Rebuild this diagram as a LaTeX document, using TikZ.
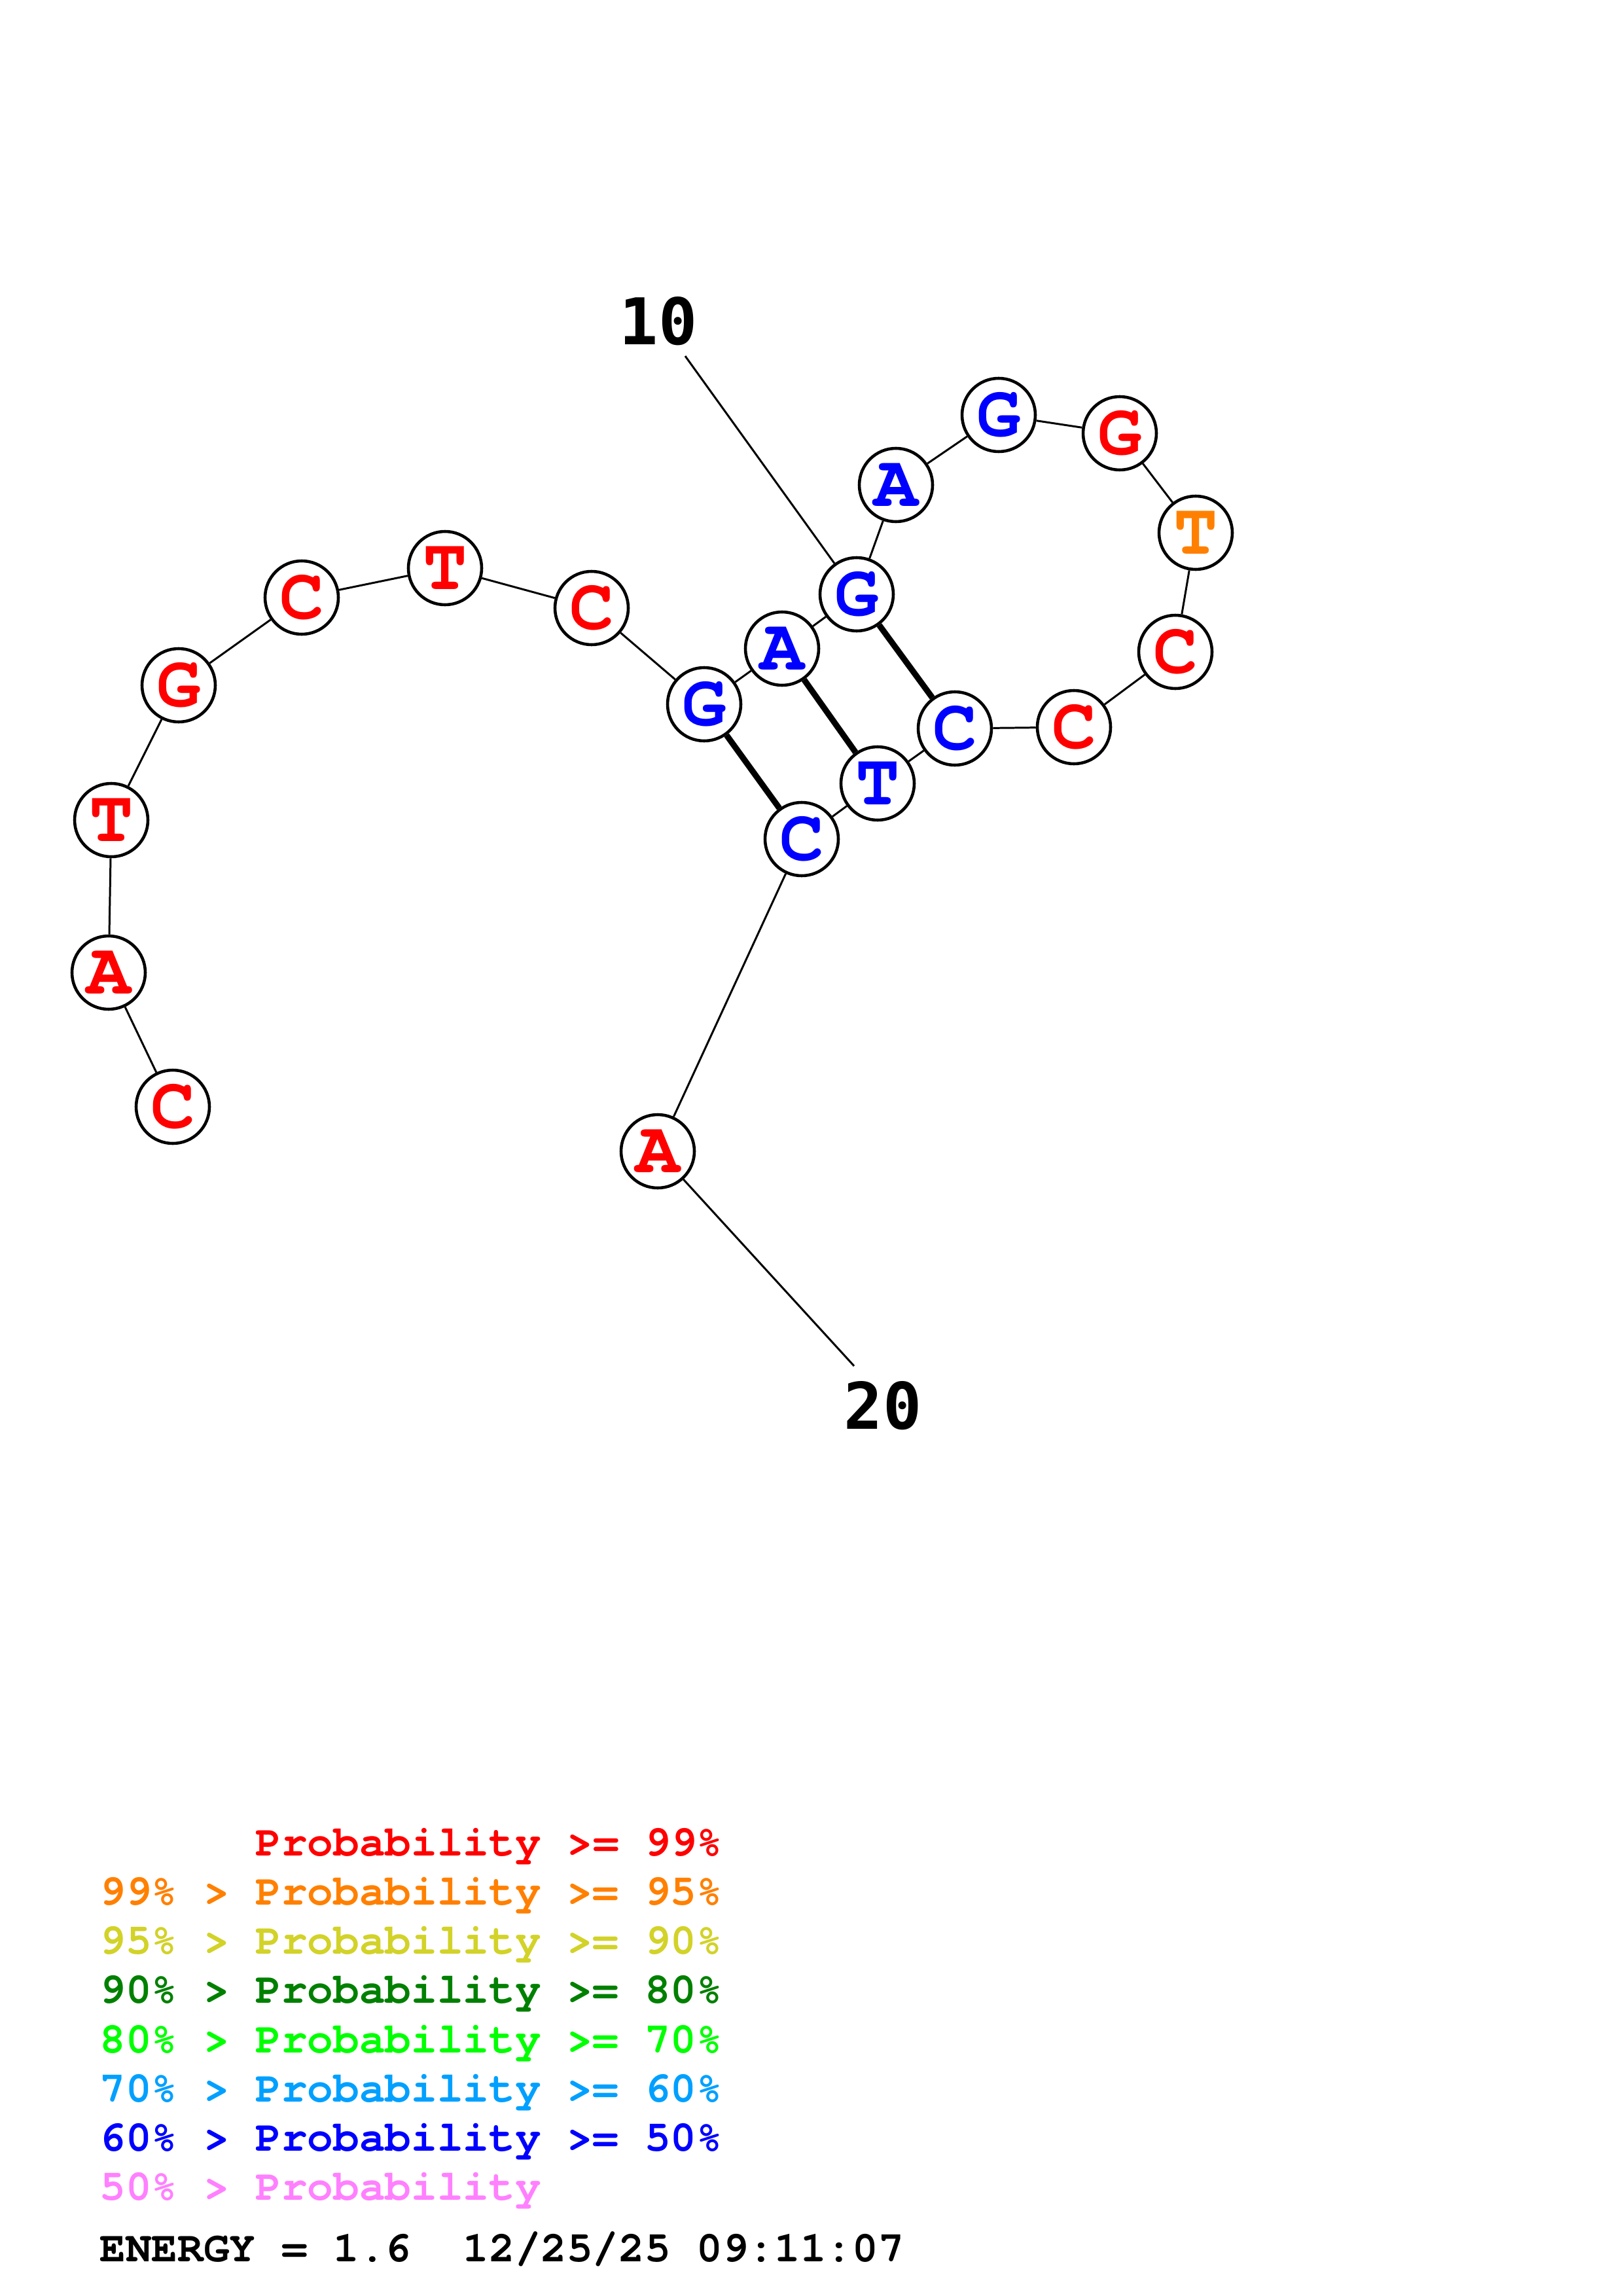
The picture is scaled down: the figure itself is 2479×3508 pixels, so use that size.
\documentclass[tikz,border=0pt]{standalone}
\usepackage{fontspec}
\newfontfamily\cour{TeX Gyre Cursor}
\newfontfamily\dvm{DejaVu Sans Mono}
\definecolor{pr99}{RGB}{255,0,0}
\definecolor{pr95}{RGB}{255,128,0}
\definecolor{pr90}{RGB}{210,210,40}
\definecolor{pr80}{RGB}{0,128,0}
\definecolor{pr70}{RGB}{0,255,0}
\definecolor{pr60}{RGB}{0,160,255}
\definecolor{pr50}{RGB}{0,0,255}
\definecolor{prlo}{RGB}{255,128,255}
\tikzset{
  nuc/.style={circle,draw=black,line width=1.3pt,fill=white,minimum size=11.2mm,inner sep=0pt,
    font=\cour\bfseries\fontsize{32}{32}\selectfont},
  bb/.style={line width=0.85pt},
  pairline/.style={line width=2.6pt},
  numlab/.style={font=\dvm\bfseries\fontsize{28}{28}\selectfont},
  leg/.style={anchor=base west,inner sep=0pt,font=\cour\bfseries\fontsize{18.8}{18.8}\selectfont}
}
\begin{document}
\begin{tikzpicture}[x=0.1mm,y=-0.1mm]
\useasboundingbox[fill=white] (0,0) rectangle (2479,3508);
% nucleotides
\node[nuc,text=pr99] (n1) at (264,1691) {C};
\node[nuc,text=pr99] (n2) at (166,1486) {A};
\node[nuc,text=pr99] (n3) at (170,1253) {T};
\node[nuc,text=pr99] (n4) at (273,1047) {G};
\node[nuc,text=pr99] (n5) at (461,913) {C};
\node[nuc,text=pr99] (n6) at (680,868) {T};
\node[nuc,text=pr99] (n7) at (904,929) {C};
\node[nuc,text=pr50] (n8) at (1076,1076) {G};
\node[nuc,text=pr50] (n9) at (1195,991) {A};
\node[nuc,text=pr50] (n10) at (1309,908) {G};
\node[nuc,text=pr50] (n11) at (1369,741) {A};
\node[nuc,text=pr50] (n12) at (1526,634) {G};
\node[nuc,text=pr99] (n13) at (1711,662) {G};
\node[nuc,text=pr95] (n14) at (1827,814) {T};
\node[nuc,text=pr99] (n15) at (1796,996) {C};
\node[nuc,text=pr99] (n16) at (1641,1111) {C};
\node[nuc,text=pr50] (n17) at (1459,1113) {C};
\node[nuc,text=pr50] (n18) at (1341,1197) {T};
\node[nuc,text=pr50] (n19) at (1225,1282) {C};
\node[nuc,text=pr99] (n20) at (1005,1759) {A};
% labels
\node[numlab] (l10) at (1006,491) {10};
\node[numlab] (l20) at (1349,2148) {20};
\coordinate (c10) at (1047,544);
\coordinate (c20) at (1305,2087);
% backbone
\foreach \a/\b in {n1/n2,n2/n3,n3/n4,n4/n5,n5/n6,n6/n7,n7/n8,n8/n9,n9/n10,n10/n11,n11/n12,n12/n13,n13/n14,n14/n15,n15/n16,n16/n17,n17/n18,n18/n19,n19/n20}
  \draw[bb] (\a) -- (\b);
\draw[bb] (c10) -- (n10);
\draw[bb] (n20) -- (c20);
% pairs
\draw[pairline] (n8) -- (n19);
\draw[pairline] (n9) -- (n18);
\draw[pairline] (n10) -- (n17);
% legend
\node[leg,text=pr99] (g1) at (390,2835) {Probability >= 99\%};
\node[leg,text=pr95] (g2) at (152,2910) {99\% > Probability >= 95\%};
\node[leg,text=pr90] (g3) at (152,2985) {95\% > Probability >= 90\%};
\node[leg,text=pr80] (g4) at (152,3060) {90\% > Probability >= 80\%};
\node[leg,text=pr70] (g5) at (152,3136) {80\% > Probability >= 70\%};
\node[leg,text=pr60] (g6) at (152,3211) {70\% > Probability >= 60\%};
\node[leg,text=pr50] (g7) at (152,3286) {60\% > Probability >= 50\%};
\node[leg,text=prlo] (g8) at (152,3361) {50\% > Probability};
\node[leg,text=black] (en) at (152,3455) {ENERGY = 1.6\ \ 12/25/25 09:11:07};
\end{tikzpicture}
\end{document}
